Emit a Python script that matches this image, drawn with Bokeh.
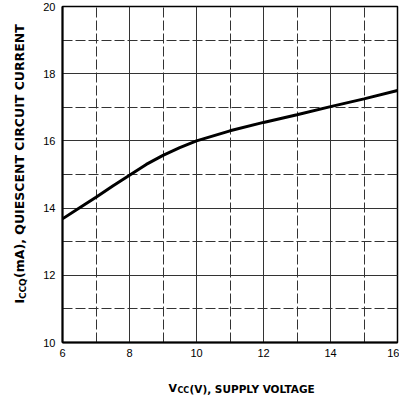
import math
from bokeh.plotting import figure
from bokeh.models import Range1d, SingleIntervalTicker
from bokeh.layouts import row, column
from bokeh.core.properties import value
from bokeh.embed import file_html
from bokeh.resources import INLINE

# Data
vcc = [6, 6.5, 7, 7.5, 8, 8.5, 9, 9.5, 10, 11, 12, 13, 14, 15, 16]
iccq = [13.68, 14.0, 14.32, 14.66, 14.98, 15.3, 15.57, 15.8, 16.0, 16.3, 16.55, 16.78, 17.02, 17.25, 17.5]

x_title_main = "V"
x_title_sub = "CC"
x_title_rest = "(V), SUPPLY VOLTAGE"
y_title_main = "I"
y_title_sub = "CCQ"
y_title_rest = "(mA), QUIESCENT CIRCUIT CURRENT"

x_lo, x_hi = 6, 16
y_lo, y_hi = 10, 20

W, H = 399, 400
LW = 30          # left title strip width
BH = 36          # bottom title strip height
MW = W - LW      # main figure width
MH = H - BH      # main figure height

font = "DejaVu Sans"


def blank(w, h):
    f = figure(width=w, height=h, output_backend="svg", toolbar_location=None,
               x_range=Range1d(0, w), y_range=Range1d(0, h),
               x_axis_location=None, y_axis_location=None,
               min_border=0, min_border_left=0, min_border_right=0,
               min_border_top=0, min_border_bottom=0)
    f.outline_line_color = None
    f.background_fill_color = "white"
    f.border_fill_color = "white"
    f.xgrid.visible = False
    f.ygrid.visible = False
    return f


p = figure(width=MW, height=MH, output_backend="svg", toolbar_location=None,
           x_range=Range1d(x_lo, x_hi), y_range=Range1d(y_lo, y_hi),
           min_border_left=32, min_border_right=2, min_border_top=6, min_border_bottom=22)
p.background_fill_color = "white"
p.border_fill_color = "white"
p.outline_line_color = "black"
p.outline_line_width = 1.5

for ax in (p.xaxis, p.yaxis):
    ax.ticker = SingleIntervalTicker(interval=2, num_minor_ticks=2)
    ax.axis_line_width = 2
    ax.axis_line_color = "black"
    ax.major_tick_in = 0
    ax.major_tick_out = 0
    ax.minor_tick_in = 0
    ax.minor_tick_out = 0
    ax.major_label_text_font = "Liberation Sans"
    ax.major_label_text_font_size = "11px"
    ax.major_label_text_color = "black"

p.xaxis.major_label_standoff = 6
p.yaxis.major_label_standoff = 7

for g in (p.xgrid, p.ygrid):
    g.grid_line_color = "#333333"
    g.grid_line_width = 1
    g.minor_grid_line_color = "#333333"
    g.minor_grid_line_width = 1
    g.minor_grid_line_dash = "10 3"
p.xgrid.ticker = p.xaxis[0].ticker
p.ygrid.ticker = p.yaxis[0].ticker

p.line(vcc, iccq, line_color="black", line_width=3)

# Left strip: rotated y title (coords in pixels, origin bottom-left of strip)
left = blank(LW, MH)
common = dict(angle=math.pi / 2, text_font=value(font), text_font_style="bold",
              text_align="left", text_baseline="alphabetic", text_color="black")
left.text(x=[19], y=[MH - 322], text=[y_title_main], text_font_size="13px", **common)
left.text(x=[22], y=[MH - 317], text=[y_title_sub], text_font_size="9px", **common)
left.text(x=[19], y=[MH - 294], text=[y_title_rest], text_font_size="12.5px", **common)

# Bottom strip: x title (full width)
bottom = blank(W, BH)
common2 = dict(text_font=value(font), text_font_style="bold",
               text_align="left", text_baseline="alphabetic", text_color="black")
bottom.text(x=[168], y=[H - 388], text=[x_title_main], text_font_size="11px", **common2)
bottom.text(x=[177], y=[H - 390], text=[x_title_sub], text_font_size="8px", **common2)
bottom.text(x=[189], y=[H - 388], text=[x_title_rest], text_font_size="10.5px", **common2)

layout = column(row(left, p, spacing=0), bottom, spacing=0)

open("out.html", "w").write(file_html(layout, INLINE))
